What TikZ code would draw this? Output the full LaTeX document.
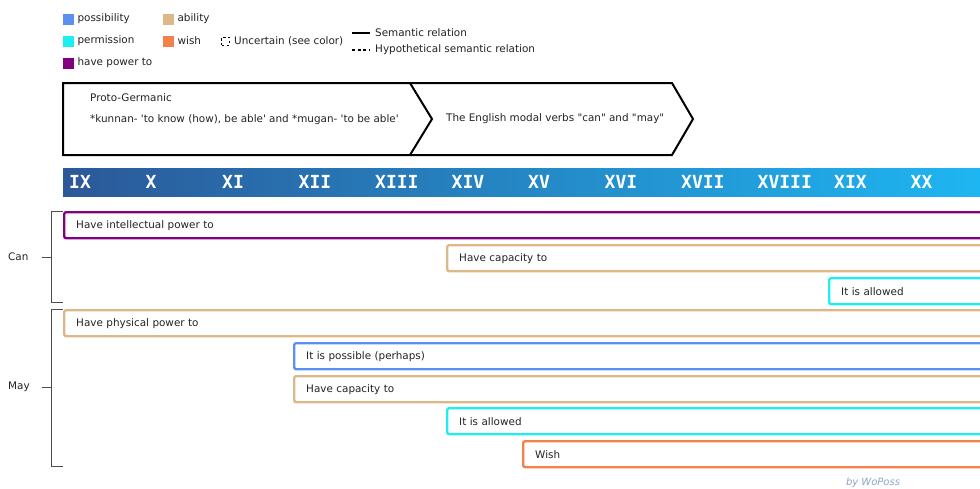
\documentclass[tikz,border=0pt]{standalone}
\usepackage{fontspec}
\setmainfont{DejaVu Sans}[Ligatures=TeXOff]
\newfontfamily\numfont{DejaVu Sans Mono}
\usetikzlibrary{positioning}
\definecolor{possib}{RGB}{91,143,240}
\definecolor{ability}{RGB}{221,183,135}
\definecolor{permis}{RGB}{30,238,240}
\definecolor{wishc}{RGB}{244,128,74}
\definecolor{power}{RGB}{128,0,128}
\definecolor{txt}{RGB}{34,34,34}
\definecolor{bandl}{RGB}{44,88,152}
\definecolor{bandr}{RGB}{30,182,242}
\definecolor{sig}{RGB}{139,164,196}
\tikzset{
  lbl/.style={font=\fontsize{10.4}{12}\selectfont, text=txt, inner sep=0pt, anchor=west},
  legbox/.style={fill=#1, minimum size=11pt, inner sep=0pt, anchor=west},
  bar/.style={draw=#1, line width=2.4pt, rounded corners=2pt, anchor=north west,
    minimum height=26pt, inner xsep=12pt, text width=1000pt, align=left,
    font=\fontsize{10.4}{12}\selectfont, text=txt},
  century/.style={font=\numfont\bfseries\fontsize{18}{20}\selectfont, text=white, anchor=west, inner sep=0pt},
  brace/.style={draw=black!70, line width=0.9pt}
}
\begin{document}
\begin{tikzpicture}[x=1pt,y=-1pt]
  \useasboundingbox (0,0) rectangle (980,488);
  \clip (0,0) rectangle (980,488);
  % legend
  \node[legbox=possib] (lp) at (63,19) {};
  \node[lbl, right=3pt of lp] {possibility};
  \node[legbox=permis] (lq) at (63,41) {};
  \node[lbl, right=3pt of lq] {permission};
  \node[legbox=power] (lh) at (63,63) {};
  \node[lbl, right=3pt of lh] {have power to};
  \node[legbox=ability] (la) at (163,19) {};
  \node[lbl, right=3pt of la] {ability};
  \node[legbox=wishc] (lw) at (163,41) {};
  \node[lbl, right=3pt of lw] {wish};
  \node[draw=black, dash pattern=on 2.5pt off 2.5pt, line width=1pt, minimum size=8pt, inner sep=0pt, anchor=west] (lu) at (221,41) {};
  \node[lbl, right=4pt of lu] {Uncertain (see color)};
  \coordinate (sa) at (352,33); \coordinate (sb) at (370,33);
  \draw[line width=1.2pt] (sa) -- (sb);
  \node[lbl, right=5pt of sb] {Semantic relation};
  \coordinate (ha) at (352,50); \coordinate (hb) at (370,50);
  \draw[line width=1.2pt, dash pattern=on 3pt off 2.5pt] (ha) -- (hb);
  \node[lbl, right=5pt of hb] {Hypothetical semantic relation};
  % periods
  \draw[line width=2pt, line join=miter] (63,83) -- (410,83) -- (432,119) -- (410,155) -- (63,155) -- cycle;
  \draw[line width=2pt, line join=miter] (410,83) -- (672,83) -- (693,119) -- (672,155) -- (410,155);
  \node[lbl] (pg) at (90,98) {Proto-Germanic};
  \node[lbl] (ku) at (90,120) {*kunnan- 'to know (how), be able' and *mugan- 'to be able'};
  \node[lbl] (en) at (446,119) {The English modal verbs "can" and "may"};
  % centuries
  \shade[left color=bandl, right color=bandr] (63,168) rectangle (980,196);
  \foreach \c [count=\i from 0] in {IX,X,XI,XII,XIII,XIV,XV,XVI,XVII,XVIII,XIX,XX}
    \node[century] (c\i) at (69+76.5*\i,182) {\c};
  % can
  \node[bar=power] (can1) at (63,211) {Have intellectual power to};
  \node[bar=ability] (can2) at (446,244) {Have capacity to};
  \node[bar=permis] (can3) at (828,277) {It is allowed};
  \node[lbl] (can) at (8,257) {Can};
  \coordinate (cant) at (63,211); \coordinate (canb) at (63,302);
  \draw[brace] (cant) -- (51,211) -- (51,302) -- (canb);
  \draw[brace] (42,257) -- (51,257);
  % may
  \node[bar=ability] (may1) at (63,309) {Have physical power to};
  \node[bar=possib] (may2) at (293,342) {It is possible (perhaps)};
  \node[bar=ability] (may3) at (293,375) {Have capacity to};
  \node[bar=permis] (may4) at (446,407) {It is allowed};
  \node[bar=wishc] (may5) at (522,440) {Wish};
  \node[lbl] (may) at (8,387) {May};
  \coordinate (mayt) at (63,309); \coordinate (mayb) at (63,466);
  \draw[brace] (mayt) -- (51,309) -- (51,466) -- (mayb);
  \draw[brace] (42,387) -- (51,387);
  \node[font=\itshape\fontsize{10}{12}\selectfont, text=sig] (by) at (873,483) {by WoPoss};
\end{tikzpicture}
\end{document}
